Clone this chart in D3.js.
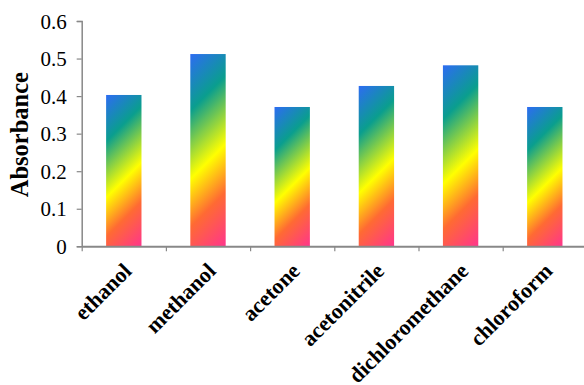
<!DOCTYPE html>
<html>
<head>
<meta charset="utf-8">
<script src="https://cdn.jsdelivr.net/npm/d3@7"></script>
<style>
  html, body { margin: 0; padding: 0; background: #fff; }
  svg { display: block; }
</style>
</head>
<body>
<script>
// Solvent absorbance data
const categories = ["ethanol", "methanol", "acetone", "acetonitrile", "dichloromethane", "chloroform"];
const absorbance = [0.403, 0.512, 0.371, 0.427, 0.482, 0.371];
const yTicks = [0, 0.1, 0.2, 0.3, 0.4, 0.5, 0.6];
const yTickLabels = ["0", "0.1", "0.2", "0.3", "0.4", "0.5", "0.6"];

// Rainbow gradient stops used to fill each bar
const gradientStops = [
  { offset: 0.00, color: "#2d6cf2" },
  { offset: 0.25, color: "#0a9e8e" },
  { offset: 0.55, color: "#ffff00" },
  { offset: 0.76, color: "#ff6a33" },
  { offset: 1.00, color: "#ff358c" }
];

const FONT = "Liberation Serif";
const W = 584, H = 385;
const margin = { left: 81.7, top: 21, bottom: 246.3 };
const step = 84.2;

const svg = d3.select("body").append("svg")
  .attr("width", W).attr("height", H);

const x = d3.scaleBand()
  .domain(categories)
  .range([margin.left, margin.left + step * categories.length])
  .paddingInner(0.58).paddingOuter(0.29);

const xEdges = d3.scaleLinear()
  .domain([0, categories.length])
  .range([margin.left, margin.left + step * categories.length]);

const y = d3.scaleLinear().domain([0, 0.6]).range([margin.bottom, margin.top]);

const defs = svg.append("defs");

// Bars with a per-bar 45° diagonal gradient
categories.forEach((c, i) => {
  const x0 = x(c), x1 = x0 + x.bandwidth();
  const y0 = y(absorbance[i]), y1 = y(0);
  const t = ((x1 - x0) + (y1 - y0)) / 2;
  const g = defs.append("linearGradient")
    .attr("id", "grad" + i)
    .attr("gradientUnits", "userSpaceOnUse")
    .attr("x1", x0).attr("y1", y0)
    .attr("x2", x0 + t).attr("y2", y0 + t);
  g.selectAll("stop").data(gradientStops).join("stop")
    .attr("offset", d => d.offset)
    .attr("stop-color", d => d.color);
});

svg.append("g").selectAll("rect").data(categories).join("rect")
  .attr("x", d => x(d))
  .attr("y", (d, i) => y(absorbance[i]))
  .attr("width", x.bandwidth())
  .attr("height", (d, i) => y(0) - y(absorbance[i]))
  .attr("fill", (d, i) => `url(#grad${i})`);

// Y axis
const yAxis = svg.append("g")
  .attr("transform", `translate(${margin.left},0)`)
  .call(d3.axisLeft(y).tickValues(yTicks)
    .tickFormat((d, i) => yTickLabels[i]).tickSize(5).tickPadding(10));
yAxis.attr("font-family", FONT).attr("font-size", 21);
yAxis.select(".domain").attr("stroke", "#888").attr("stroke-width", 1.5);
yAxis.selectAll(".tick line").attr("stroke", "#888").attr("stroke-width", 1.2);
yAxis.selectAll(".tick text")
  .attr("fill", "#000")
  .attr("font-family", FONT)
  .attr("font-size", 21)
  .attr("dy", "0.34em");

// X axis with ticks at category boundaries
const xAxis = svg.append("g")
  .attr("transform", `translate(0,${margin.bottom})`)
  .call(d3.axisBottom(xEdges).tickValues(d3.range(0, categories.length))
    .tickFormat("").tickSize(5).tickSizeOuter(0));
xAxis.select(".domain").attr("stroke", "#888").attr("stroke-width", 2);
xAxis.selectAll(".tick line").attr("stroke", "#888").attr("stroke-width", 1.2);

// Rotated category labels
svg.append("g").selectAll("text").data(categories).join("text")
  .attr("transform", d => `translate(${x(d) + x.bandwidth() / 2 + 9},${margin.bottom + 26}) rotate(-45)`)
  .attr("text-anchor", "end")
  .attr("font-family", FONT)
  .attr("font-weight", "bold")
  .attr("font-size", 22)
  .text(d => d);

// Y axis title
svg.append("text")
  .attr("transform", `translate(28,${(margin.top + margin.bottom) / 2 + 1}) rotate(-90)`)
  .attr("text-anchor", "middle")
  .attr("font-family", FONT)
  .attr("font-weight", "bold")
  .attr("font-size", 24.5)
  .text("Absorbance");
</script>
</body>
</html>
